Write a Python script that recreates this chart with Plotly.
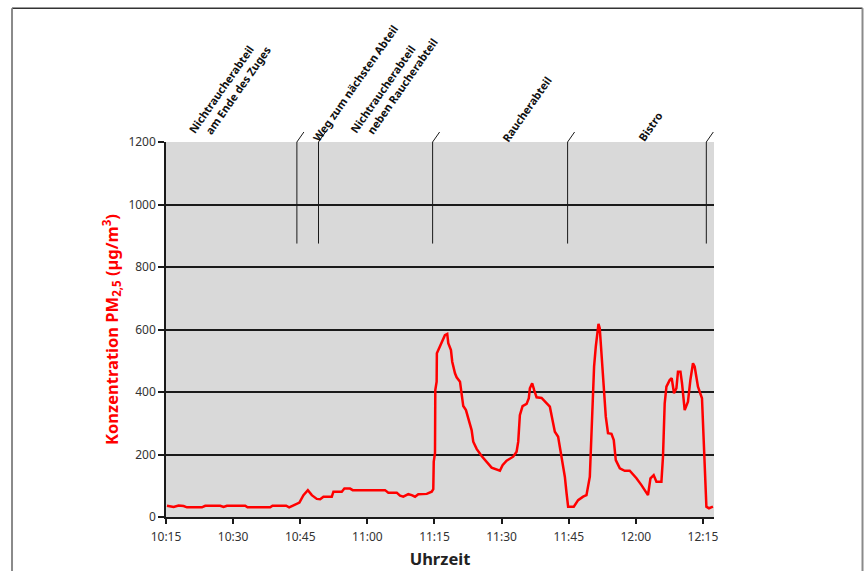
import plotly.graph_objects as go

TAG = "2000-01-01 "

# Messzeitpunkte (Uhrzeit) und PM2,5-Konzentration in µg/m³
zeit = [
    "10:15:13", "10:16:42", "10:17:49", "10:18:56", "10:19:41", "10:23:02", "10:23:46",
    "10:27:07", "10:27:52", "10:28:37", "10:32:42", "10:33:13", "10:38:17", "10:38:48",
    "10:41:51", "10:42:31", "10:43:08", "10:44:15", "10:44:49", "10:45:43", "10:46:42",
    "10:47:35", "10:48:42", "10:49:27", "10:50:11", "10:52:03", "10:52:25", "10:54:17",
    "10:54:52", "10:56:08", "10:56:44", "11:03:57", "11:04:41", "11:06:34", "11:07:18",
    "11:08:02", "11:09:09", "11:09:55", "11:10:39", "11:11:23", "11:13:16", "11:14:23",
    "11:14:44", "11:14:50", "11:15:07", "11:15:11", "11:15:29", "11:15:32", "11:16:14",
    "11:16:58", "11:17:20", "11:17:51", "11:18:05", "11:18:41", "11:18:58", "11:19:35",
    "11:19:57", "11:20:42", "11:21:04", "11:21:26", "11:22:02", "11:22:33", "11:23:18",
    "11:23:40", "11:24:25", "11:25:32", "11:26:39", "11:27:46", "11:29:37", "11:30:13",
    "11:31:07", "11:32:35", "11:33:21", "11:33:43", "11:34:05", "11:34:41", "11:35:35",
    "11:36:05", "11:36:19", "11:36:50", "11:37:17", "11:37:49", "11:38:56", "11:39:40",
    "11:40:47", "11:41:23", "11:41:54", "11:42:38", "11:43:23", "11:44:08", "11:44:31",
    "11:44:52", "11:46:08", "11:47:06", "11:48:13", "11:48:58", "11:49:43", "11:49:56",
    "11:50:13", "11:50:27", "11:50:40", "11:51:03", "11:51:26", "11:51:39", "11:51:56",
    "11:52:19", "11:52:41", "11:53:04", "11:53:17", "11:53:47", "11:54:33", "11:55:04",
    "11:55:31", "11:56:25", "11:57:31", "11:58:38", "12:00:08", "12:01:15", "12:02:13",
    "12:02:43", "12:03:16", "12:03:59", "12:04:36", "12:05:43", "12:06:04", "12:06:27",
    "12:06:50", "12:07:34", "12:08:01", "12:08:32", "12:09:04", "12:09:25", "12:09:58",
    "12:10:19", "12:10:55", "12:11:39", "12:12:11", "12:12:46", "12:13:09", "12:13:53",
    "12:14:47", "12:15:00", "12:15:23", "12:15:46", "12:16:20", "12:17:14",
]
pm25 = [
    36, 32, 37, 35, 31, 31, 36,
    36, 32, 36, 36, 31, 31, 36,
    36, 31, 35, 44, 46, 70, 86,
    70, 58, 57, 65, 65, 81, 81,
    91, 91, 86, 86, 78, 78, 68,
    65, 73, 70, 65, 73, 74, 81,
    89, 177, 204, 406, 433, 524, 545,
    566, 582, 586, 556, 534, 497, 460,
    447, 433, 401, 355, 342, 316, 278,
    241, 218, 195, 177, 158, 148, 166,
    180, 193, 209, 241, 326, 355, 362,
    380, 412, 428, 406, 383, 381, 369,
    353, 310, 273, 257, 193, 129, 76,
    33, 33, 54, 65, 70, 129, 204,
    289, 385, 481, 545, 598, 618, 604,
    524, 454, 374, 321, 268, 266, 246,
    182, 156, 148, 148, 124, 102, 81,
    70, 124, 134, 113, 113, 193, 364,
    417, 438, 444, 396, 412, 465, 465,
    428, 342, 369, 438, 492, 481, 417,
    380, 289, 193, 33, 28, 33,
]

# Wechsel des Aufenthaltsorts im Zug
grenzen = ["10:44:15", "10:49:05", "11:14:35", "11:44:45", "12:15:45"]

# Beschriftung der Abschnitte (Text, linke Kante der Beschriftung)
abschnitte = [
    "Nichtraucherabteil<br>\u00a0\u00a0\u00a0am Ende des Zuges",
    "Weg zum nächsten Abteil",
    "Nichtraucherabteil<br>\u00a0\u00a0\u00a0neben Raucherabteil",
    "Raucherabteil",
    "Bistro",
]
abschnitt_x = ["10:18:38", "10:46:32", "10:54:48", "11:28:44", "11:59:04"]

x_ticks = ["10:15", "10:30", "10:45", "11:00", "11:15", "11:30", "11:45", "12:00", "12:15"]
y_ticks = [0, 200, 400, 600, 800, 1000, 1200]

FONT = "Noto Sans"

fig = go.Figure()
fig.add_trace(go.Scatter(
    x=[TAG + t for t in zeit], y=pm25, mode="lines",
    line=dict(color="#ff0000", width=2.5), showlegend=False,
))

shapes = []
for g in grenzen:
    shapes.append(dict(type="line", xref="x", yref="y", x0=TAG + g, x1=TAG + g,
                       y0=875, y1=1200, line=dict(color="#1a1a1a", width=1), layer="above"))
    # kurzer Schrägstrich über der Linie
    shapes.append(dict(type="line", xref="x", xsizemode="pixel", xanchor=TAG + g, x0=0, x1=7,
                       yref="paper", ysizemode="pixel", yanchor=1, y0=0, y1=10,
                       line=dict(color="#1a1a1a", width=1)))

# Rahmen um die Grafik
shapes += [
    dict(type="line", xref="paper", yref="paper", x0=-0.281, x1=1.271, y0=1.357, y1=1.357,
         line=dict(color="#333333", width=1.5)),
    dict(type="line", xref="paper", yref="paper", x0=-0.281, x1=-0.281, y0=-0.3, y1=1.357,
         line=dict(color="#8a8a8a", width=2)),
    dict(type="line", xref="paper", yref="paper", x0=1.271, x1=1.271, y0=-0.3, y1=1.357,
         line=dict(color="#8a8a8a", width=2)),
]

annotations = []
for text, x in zip(abschnitte, abschnitt_x):
    annotations.append(dict(
        text="<b>" + text + "</b>", x=TAG + x, xref="x", y=1.0, yref="paper",
        xanchor="left", yanchor="bottom", yshift=-5, textangle=-55, align="left",
        showarrow=False, font=dict(family=FONT, size=11, color="#111111"),
    ))

fig.update_layout(
    width=867, height=571,
    margin=dict(l=166, r=153, t=142, b=54, autoexpand=False),
    paper_bgcolor="white", plot_bgcolor="#d9d9d9",
    font=dict(family=FONT, size=12, color="#333333"),
    shapes=shapes, annotations=annotations,
    xaxis=dict(
        type="date", range=[TAG + "10:15:00", TAG + "12:17:28"], autorange=False,
        tickvals=[TAG + t for t in x_ticks], ticktext=x_ticks,
        ticks="outside", ticklen=5, tickwidth=1.5, tickcolor="#1a1a1a",
        ticklabelstandoff=3, automargin=False,
        showline=True, linecolor="#1a1a1a", linewidth=1.5, showgrid=False, zeroline=False,
        tickfont=dict(family=FONT, size=12, color="#333333"),
        title=dict(text="<b>Uhrzeit</b>", standoff=9,
                   font=dict(family=FONT, size=16.5, color="#222222")),
    ),
    yaxis=dict(
        range=[0, 1200], autorange=False, tickvals=y_ticks, automargin=False,
        ticks="outside", ticklen=6, tickwidth=1.5, tickcolor="#1a1a1a",
        showline=True, linecolor="#1a1a1a", linewidth=1.5,
        showgrid=True, gridcolor="#1a1a1a", gridwidth=1.5, zeroline=False,
        tickfont=dict(family=FONT, size=12, color="#333333"),
        title=dict(text="<b>Konzentration PM<sub>2,5</sub> (µg/m<sup>3</sup>)</b>", standoff=6,
                   font=dict(family=FONT, size=16.5, color="#ff0000")),
    ),
)

fig.write_html("out.html")
